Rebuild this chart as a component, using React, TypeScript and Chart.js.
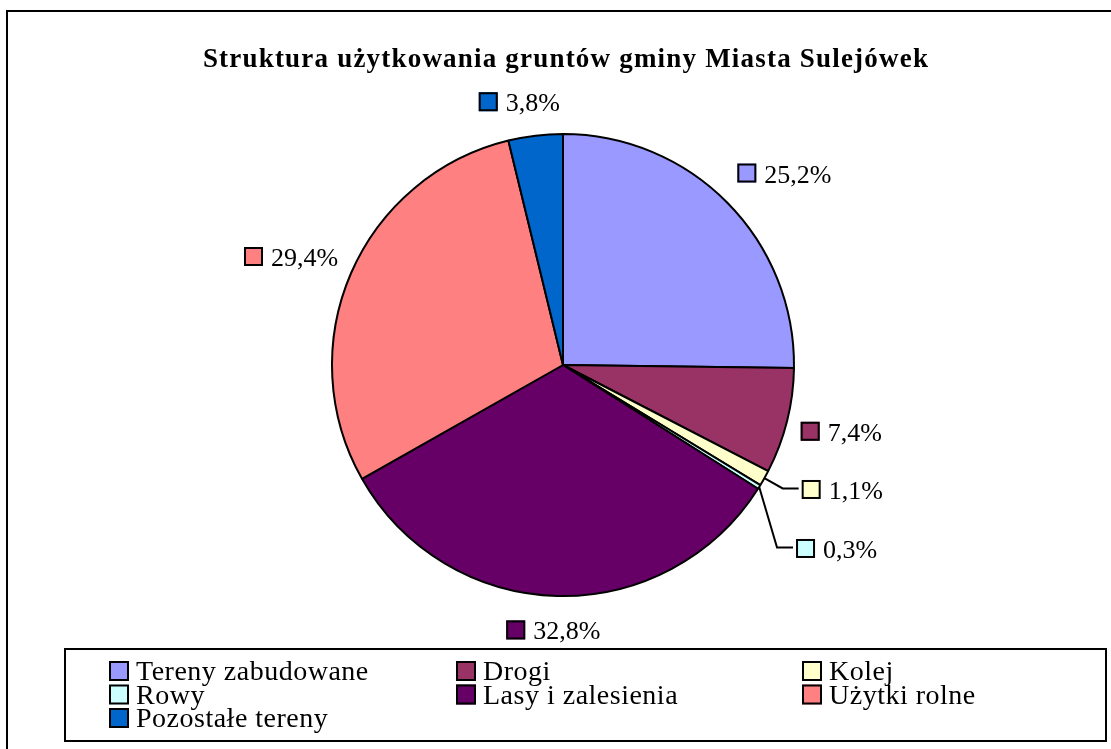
import React, { useEffect, useRef } from "react";
import { Chart, registerables } from "chart.js";

Chart.register(...registerables);

const TITLE = "Struktura użytkowania gruntów gminy Miasta Sulejówek";
const CATEGORIES = [
  "Tereny zabudowane",
  "Drogi",
  "Kolej",
  "Rowy",
  "Lasy i zalesienia",
  "Użytki rolne",
  "Pozostałe tereny",
];
const SHARES = [25.2, 7.4, 1.1, 0.3, 32.8, 29.4, 3.8];
const COLORS = ["#9999FF", "#993366", "#FFFFCC", "#CCFFFF", "#660066", "#FF8080", "#0066CC"];

const W = 1111;
const H = 749;
const SERIF = '"Liberation Serif", "Times New Roman", serif';

const fmt = (v: number) => v.toFixed(1).replace(".", ",") + "%";
const clamp = (v: number) => Math.max(-1, Math.min(1, v));

const framePlugin = {
  id: "frameTitleLegend",
  beforeDraw(chart: any) {
    const ctx = chart.ctx as CanvasRenderingContext2D;
    ctx.save();
    ctx.fillStyle = "#fff";
    ctx.fillRect(0, 0, W, H);
    ctx.restore();
  },
  afterDraw(chart: any) {
    const ctx = chart.ctx as CanvasRenderingContext2D;
    ctx.save();
    // outer frame
    ctx.strokeStyle = "#000";
    ctx.lineWidth = 2;
    ctx.strokeRect(7, 11, W + 20, H + 20);
    // title
    ctx.fillStyle = "#000";
    ctx.font = `bold 27px ${SERIF}`;
    (ctx as any).letterSpacing = "1.2px";
    ctx.textAlign = "center";
    ctx.textBaseline = "alphabetic";
    ctx.fillText(TITLE, 566, 67);
    (ctx as any).letterSpacing = "0px";
    // legend box
    ctx.lineWidth = 2;
    ctx.strokeRect(65, 649, 1041, 92);
    const cols = [109, 456, 802];
    const rows = [671, 694.5, 718];
    ctx.font = `28px ${SERIF}`;
    (ctx as any).letterSpacing = "0.5px";
    ctx.textAlign = "left";
    CATEGORIES.forEach((name, i) => {
      const x = cols[i % 3];
      const cy = rows[Math.floor(i / 3)];
      const sq = 20;
      ctx.fillStyle = COLORS[i];
      ctx.fillRect(x, cy - sq / 2, sq, sq);
      ctx.lineWidth = 2;
      ctx.strokeStyle = "#000";
      ctx.strokeRect(x + 1, cy - sq / 2 + 1, sq - 2, sq - 2);
      ctx.fillStyle = "#000";
      ctx.fillText(name, x + 27, cy + 9);
    });
    ctx.restore();
  },
};

const labelPlugin = {
  id: "sliceLabels",
  afterDatasetsDraw(chart: any) {
    const ctx = chart.ctx as CanvasRenderingContext2D;
    const meta = chart.getDatasetMeta(0);
    const data = chart.data.datasets[0].data as number[];
    ctx.save();
    ctx.font = `26px ${SERIF}`;
    ctx.textAlign = "left";
    ctx.textBaseline = "alphabetic";
    let prevLeaderY = -Infinity;
    meta.data.forEach((arc: any, i: number) => {
      const p = arc.getProps(["x", "y", "startAngle", "endAngle", "outerRadius"], true);
      const a = (p.startAngle + p.endAngle) / 2;
      const c = Math.cos(a);
      const s = Math.sin(a);
      const value = data[i];
      const text = fmt(value);
      const tw = ctx.measureText(text).width;
      const sq = 19;
      const gap = 8;
      const w = sq + gap + tw;
      let left: number;
      let cy: number;
      if (value < 2) {
        const rr = p.outerRadius + 21;
        const px = p.x + c * rr;
        const py = Math.max(p.y + s * rr, prevLeaderY + 59);
        prevLeaderY = py;
        const ex = p.x + c * p.outerRadius;
        const ey = p.y + s * p.outerRadius;
        ctx.beginPath();
        ctx.moveTo(ex, ey);
        ctx.lineTo(px, py);
        ctx.lineTo(px + 16, py);
        ctx.lineWidth = 2;
        ctx.strokeStyle = "#000";
        ctx.stroke();
        left = px + 19;
        cy = py + 1;
      } else {
        const d = 14;
        const h = 40;
        const px = p.x + c * (p.outerRadius + d);
        const py = p.y + s * (p.outerRadius + d);
        const cx = px + (clamp(3 * c) * w) / 2;
        cy = py + (clamp(1.41 * s) * h) / 2;
        left = cx - w / 2;
      }
      ctx.fillStyle = COLORS[i];
      ctx.fillRect(left, cy - sq / 2, sq, sq);
      ctx.lineWidth = 2;
      ctx.strokeStyle = "#000";
      ctx.strokeRect(left + 1, cy - sq / 2 + 1, sq - 2, sq - 2);
      ctx.fillStyle = "#000";
      ctx.fillText(text, left + sq + gap, cy + 9.5);
    });
    ctx.restore();
  },
};

export default function App() {
  const ref = useRef<HTMLCanvasElement>(null);
  useEffect(() => {
    if (!ref.current) return;
    const chart = new Chart(ref.current, {
      type: "pie",
      data: {
        labels: CATEGORIES,
        datasets: [
          {
            data: SHARES,
            backgroundColor: COLORS,
            borderColor: "#000",
            borderWidth: 2,
          },
        ],
      },
      options: {
        responsive: false,
        animation: false,
        layout: { padding: { left: 331, right: 316, top: 133, bottom: 152 } },
        plugins: {
          legend: { display: false },
          title: { display: false },
          tooltip: { enabled: false },
        },
      },
      plugins: [framePlugin, labelPlugin],
    });
    return () => chart.destroy();
  }, []);
  return (
    <div style={{ position: "fixed", left: 0, top: 0, width: W, height: H, background: "#fff" }}>
      <canvas ref={ref} width={W} height={H} style={{ display: "block" }} />
    </div>
  );
}
